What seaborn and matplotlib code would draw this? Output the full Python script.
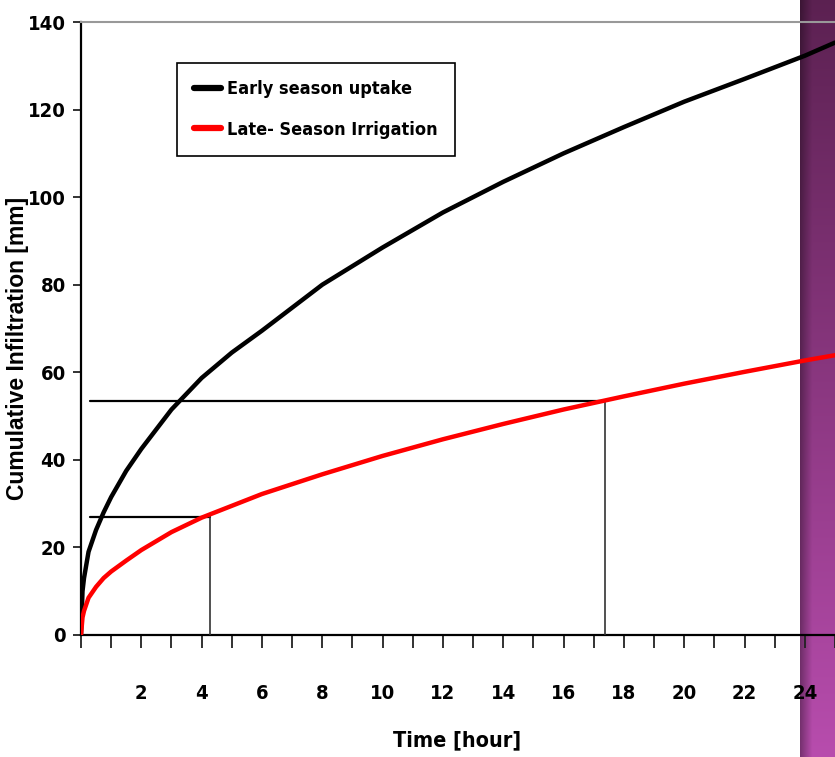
import numpy as np
import pandas as pd
import matplotlib
matplotlib.use("Agg")
import matplotlib.pyplot as plt
from matplotlib import font_manager
from matplotlib.font_manager import FontProperties
import seaborn as sns

# ---- data ----
time_hours = [0, 0.05, 0.1, 0.25, 0.5, 0.75, 1, 1.5, 2, 3, 4, 5, 6, 8, 10, 12, 14, 16, 18, 20, 22, 24, 25]
early_season = [0, 10, 13, 19, 24, 28, 31.5, 37.5, 42.5, 51.5, 58.7, 64.5, 69.5, 80, 88.5, 96.5, 103.5, 110, 116, 121.8, 127, 132.3, 135.3]
late_season = [0, 4, 5.5, 8.5, 11, 13, 14.5, 17, 19.4, 23.5, 26.8, 29.5, 32.2, 36.7, 40.9, 44.7, 48.2, 51.5, 54.5, 57.4, 60.1, 62.7, 63.9]
series_names = ["Early season uptake", "Late- Season Irrigation"]
series_colors = ["#000000", "#ff0000"]
# guide lines: (time, infiltration)
guide_points = [(4.27, 27.0), (17.36, 53.5)]
guide_start_x = 0.31
y_ticks = [0, 20, 40, 60, 80, 100, 120, 140]

sns.set_style("white")
plt.rcParams['font.family'] = ['Liberation Sans', 'DejaVu Sans']
plt.rcParams['text.color'] = 'black'
plt.rcParams['axes.labelcolor'] = 'black'

# look for a condensed / narrow bold face, and a regular-width bold face
cond_path = None
bold_path = None
cands = []
for f in font_manager.fontManager.ttflist:
    fn = f.fname.lower()
    base = fn.replace("\\", "/").split("/")[-1]
    if ("narrow" in fn or "condensed" in fn) and (f.weight in ("bold", 700) or "bold" in fn) and "oblique" not in fn and "italic" not in fn:
        rank = 0 if "liberation" in fn else (1 if "dejavusans" in fn.replace("-", "").replace(" ", "") else 2)
        cands.append((rank, f.fname))
    if base == "liberationsans-bold.ttf":
        bold_path = f.fname
if cands:
    cands.sort()
    cond_path = cands[0][1]

def cfont(size):
    if cond_path:
        return FontProperties(fname=cond_path, size=size)
    return FontProperties(family="Liberation Sans", weight="bold", size=size * 0.9)

def bfont(size):
    if bold_path:
        return FontProperties(fname=bold_path, size=size)
    return FontProperties(family="DejaVu Sans", weight="bold", size=size * 0.9)

df = pd.DataFrame({
    "Time": time_hours * 2,
    "Infiltration": early_season + late_season,
    "Series": [series_names[0]] * len(time_hours) + [series_names[1]] * len(time_hours),
})

W, H = 835, 757
fig = plt.figure(figsize=(W / 100, H / 100), dpi=100)
fig.patch.set_facecolor("white")

# purple slide band at right edge (background decoration)
band = fig.add_axes([800 / W, 0, 35 / W, 1], zorder=0)
gy = np.linspace(0, 1, 200)[:, None]
gx = np.linspace(0, 1, 40)[None, :]
base_top = np.array([0.36, 0.13, 0.32])
base_bot = np.array([0.72, 0.30, 0.68])
col = base_top[None, None, :] * (1 - gy[..., None]) + base_bot[None, None, :] * gy[..., None]
shade = 0.65 + 0.35 * np.clip(gx / 0.35, 0, 1)
img = np.clip(col * shade[..., None], 0, 1)
band.imshow(img, aspect="auto", extent=[0, 1, 0, 1], origin="upper")
band.set_axis_off()

ax = fig.add_axes([81 / W, (H - 635) / H, (W - 81) / W, (635 - 22) / H], zorder=1)
ax.set_facecolor("none")

sns.lineplot(data=df, x="Time", y="Infiltration", hue="Series",
             palette=dict(zip(series_names, series_colors)), linewidth=3.2,
             ax=ax, legend=True, zorder=5)

for gx_, gy_ in guide_points:
    ax.plot([guide_start_x, gx_], [gy_, gy_], color="black", lw=1.6, zorder=4)
    ax.plot([gx_, gx_], [0, gy_], color="#333333", lw=1.2, zorder=4)

ax.set_xlim(0, 25)
ax.set_ylim(0, 140)
ax.set_xticks(range(0, 26))
ax.set_xticklabels(["" if (v == 0 or v % 2 or v > 24) else str(v) for v in range(0, 26)])
ax.set_yticks(y_ticks)
ax.set_yticklabels([str(v) for v in y_ticks])

tick_fp = cfont(14.5)
for lab in ax.get_xticklabels() + ax.get_yticklabels():
    lab.set_fontproperties(tick_fp)
    lab.set_color("black")

ax.tick_params(axis="x", bottom=True, direction="out", length=9, width=1.3, color="#222222", pad=26)
ax.tick_params(axis="y", left=True, direction="out", length=6, width=1.3, color="#222222", pad=5)

ax.spines["left"].set_color("black")
ax.spines["left"].set_linewidth(1.6)
ax.spines["bottom"].set_color("black")
ax.spines["bottom"].set_linewidth(1.6)
ax.spines["top"].set_color("#999999")
ax.spines["top"].set_linewidth(1.5)
ax.spines["right"].set_visible(False)

ax.set_xlabel("Time [hour]", fontproperties=cfont(15.5), color="black")
ax.xaxis.set_label_coords((457 - 81) / 754, -(740 - 635) / 613)
ax.xaxis.label.set_va("center")
ax.set_ylabel("Cumulative Infiltration [mm]", fontproperties=bfont(16.5), color="black")
ax.yaxis.set_label_coords(-(81 - 18) / 754, (635 - 348) / 613)
ax.yaxis.label.set_va("center")

leg = ax.legend(loc="upper left", bbox_to_anchor=(0.127, 0.933), borderaxespad=0,
                frameon=True, fancybox=False, edgecolor="black", framealpha=1,
                prop=cfont(13),
                handlelength=1.5, handletextpad=0.35, borderpad=0.95, labelspacing=1.25)
leg.get_frame().set_linewidth(1.2)
for h in leg.get_lines():
    h.set_linewidth(4.5)
for t in leg.get_texts():
    t.set_color("black")
leg.set_zorder(10)

fig.savefig("out.png", dpi=100)
